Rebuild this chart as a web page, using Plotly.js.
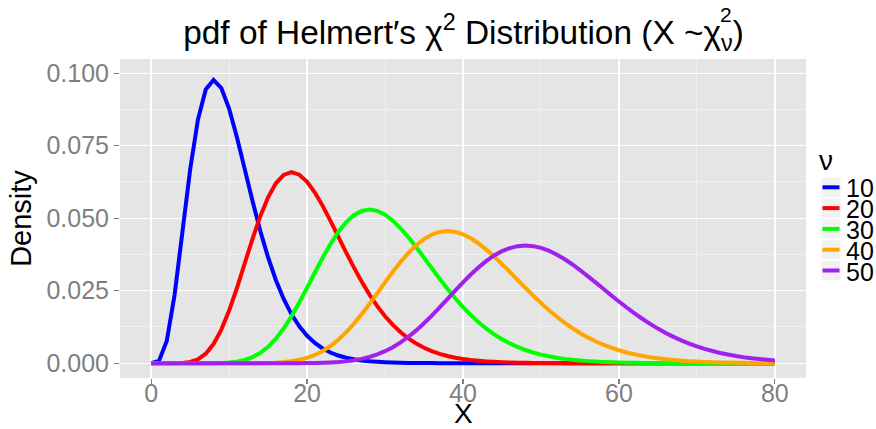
<!DOCTYPE html>
<html>
<head>
<meta charset="utf-8">
<script src="https://cdn.plot.ly/plotly-3.0.1.min.js"></script>
<style>html,body{margin:0;padding:0;background:#fff;}#chart{width:876px;height:429px;}</style>
</head>
<body>
<div id="chart"></div>
<script>
// ---- data ----
var xValues = [0,1,2,3,4,5,6,7,8,9,10,11,12,13,14,15,16,17,18,19,20,21,22,23,24,25,26,27,28,29,30,31,32,33,34,35,36,37,38,39,40,41,42,43,44,45,46,47,48,49,50,51,52,53,54,55,56,57,58,59,60,61,62,63,64,65,66,67,68,69,70,71,72,73,74,75,76,77,78,79,80];
var nuLabels = ['10','20','30','40','50'];
var seriesColors = ['#0000FF','#FF0000','#00FF00','#FFA500','#A020F0'];
var dens10 = [0,0.00079,0.00766,0.02353,0.04511,0.0668,0.08402,0.09441,0.09768,0.0949,0.08773,0.07791,0.06693,0.05591,0.04561,0.03646,0.02863,0.02213,0.01687,0.0127,0.009458,0.006973,0.005094,0.003691,0.002654,0.001896,0.001345,0.000949,0.000666,0.000465,0.000323,0.000223,0.000154,0.000105,0.000072,0.000049,0.000033,0.0000225,0.0000152,0.0000102,0.0000069,0.0000046,0.0000031,0.0000021,0.0000014,0.0000009,0.0000006,0,0,0,0,0,0,0,0,0,0,0,0,0,0,0,0,0,0,0,0,0,0,0,0,0,0,0,0,0,0,0,0,0,0];
var dens20 = [0,0,0.0000005,0.0000118,0.0000955,0.000431,0.00135,0.003279,0.006615,0.011582,0.018133,0.025933,0.034418,0.042904,0.050701,0.057219,0.062039,0.064933,0.065875,0.065,0.062554,0.058858,0.054262,0.049101,0.043681,0.038256,0.033026,0.028134,0.023672,0.01969,0.016203,0.013201,0.010655,0.008525,0.006764,0.005326,0.004163,0.003231,0.002491,0.001909,0.001454,0.001101,0.00083,0.000622,0.000464,0.000345,0.000255,0.000187,0.000137,0.0001,0.000073,0.000053,0.000038,0.0000275,0.00002,0.0000141,0.00001,0.0000072,0.000005,0.0000036,0.0000025,0.0000018,0.0000012,0.0000009,0.0000006,0.0000004,0,0,0,0,0,0,0,0,0,0,0,0,0,0,0];
var dens30 = [0,0,0,0,0,0.0000002,0.0000014,0.0000072,0.0000282,0.000089,0.000236,0.000543,0.001114,0.002072,0.003547,0.005652,0.008462,0.011993,0.016192,0.020936,0.026038,0.031269,0.036376,0.04111,0.045245,0.048598,0.051044,0.052512,0.052995,0.052534,0.051218,0.049163,0.046508,0.043399,0.03998,0.036386,0.03274,0.029142,0.025676,0.022403,0.019369,0.016599,0.014107,0.011895,0.009954,0.00827,0.006823,0.005592,0.004555,0.003687,0.002967,0.002375,0.00189,0.001497,0.00118,0.000925,0.000722,0.000561,0.000434,0.000335,0.000257,0.000196,0.000149,0.000113,0.0000858,0.0000646,0.0000485,0.0000363,0.0000271,0.0000202,0.000015,0.0000111,0.0000082,0.000006,0.0000044,0.0000032,0.0000024,0.0000017,0.0000013,0.0000009,0.0000007];
var dens40 = [0,0,0,0,0,0,0,0,0,0.0000001,0.0000005,0.000002,0.0000062,0.0000172,0.0000427,0.0000961,0.000199,0.000381,0.000685,0.001161,0.001866,0.00286,0.004199,0.005926,0.008068,0.010629,0.013582,0.016875,0.020427,0.024133,0.027873,0.031521,0.034949,0.038037,0.040682,0.0428,0.044335,0.045258,0.045561,0.045269,0.044417,0.043069,0.041291,0.039163,0.036764,0.034175,0.031472,0.028724,0.025991,0.023325,0.020767,0.01835,0.016096,0.01402,0.012129,0.010426,0.008905,0.00756,0.006381,0.005356,0.00447,0.003712,0.003066,0.002521,0.002062,0.001679,0.001361,0.001099,0.000883,0.000707,0.000564,0.000448,0.000354,0.000279,0.000219,0.000172,0.000134,0.000104,0.0000807,0.0000623,0.000048];
var dens50 = [0,0,0,0,0,0,0,0,0,0,0,0,0,0,0,0.0000005,0.0000013,0.0000033,0.0000079,0.0000176,0.0000366,0.0000716,0.000133,0.000234,0.000394,0.000636,0.000989,0.001484,0.002154,0.003033,0.00415,0.005529,0.007185,0.009121,0.011325,0.013773,0.016425,0.019229,0.022118,0.025024,0.027867,0.030571,0.033063,0.035274,0.037148,0.038638,0.039715,0.040362,0.040575,0.040367,0.039761,0.03879,0.037495,0.035922,0.034123,0.032147,0.030048,0.027871,0.025661,0.023459,0.021299,0.019208,0.017212,0.015326,0.013565,0.011937,0.010445,0.009088,0.007866,0.006773,0.005802,0.004946,0.004197,0.003544,0.00298,0.002494,0.002079,0.001726,0.001427,0.001175,0.000964];
var xTickVals = [0,20,40,60,80];
var yTickVals = [0,0.025,0.05,0.075,0.1];
var yTickText = ['0.000','0.025','0.050','0.075','0.100'];

var densities = [dens10, dens20, dens30, dens40, dens50];

// ---- layout geometry (pixels) ----
var W = 876, H = 429;
var M = {l:120, r:70, t:59, b:51};
var PW = W - M.l - M.r, PH = H - M.t - M.b;
function px2x(px){ return (px - M.l) / PW; }
function py2y(py){ return (H - M.b - py) / PH; }

var FONT = 'Liberation Sans, Arial, Helvetica, sans-serif';

var traces = densities.map(function(d, i){
  return {
    x: xValues, y: d, type: 'scatter', mode: 'lines',
    name: nuLabels[i],
    line: {color: seriesColors[i], width: 4, simplify: false},
    showlegend: false, hoverinfo: 'skip'
  };
});

var shapes = [], annotations = [];
// x-axis title (placed as annotation for exact position)
annotations.push({
  xref:'paper', yref:'paper', x: px2x(463), y: py2y(413.5),
  xanchor:'center', yanchor:'middle', showarrow:false,
  text:'X', font:{family:FONT, size:28, color:'#000'}
});
// manual legend (ggplot style)
var rowY0 = 187.3, rowStep = 20.8;
annotations.push({
  xref:'paper', yref:'paper', x: px2x(817), y: py2y(160),
  xanchor:'left', yanchor:'middle', showarrow:false,
  text:'ν', font:{family:FONT, size:28, color:'#000'}
});
nuLabels.forEach(function(lab, i){
  var cy = rowY0 + i*rowStep;
  shapes.push({type:'rect', xref:'paper', yref:'paper',
    x0: px2x(821), x1: px2x(841), y0: py2y(cy+10), y1: py2y(cy-10),
    fillcolor:'#F2F2F2', line:{color:'#FFFFFF', width:1}, layer:'above'});
  shapes.push({type:'line', xref:'paper', yref:'paper',
    x0: px2x(822.5), x1: px2x(839.5), y0: py2y(cy), y1: py2y(cy),
    line:{color: seriesColors[i], width: 4}, layer:'above'});
  annotations.push({
    xref:'paper', yref:'paper', x: px2x(844), y: py2y(cy+1),
    xanchor:'left', yanchor:'middle', showarrow:false,
    text: lab, font:{family:FONT, size:25, color:'#000'}
  });
});
// stacked superscript over the subscript nu in the title
annotations.push({
  xref:'paper', yref:'paper', x: px2x(726), y: py2y(14),
  xanchor:'center', yanchor:'middle', showarrow:false,
  text:'2', font:{family:FONT, size:21, color:'#000'}
});

var layout = {
  width: W, height: H,
  margin: M,
  paper_bgcolor:'#FFFFFF', plot_bgcolor:'#E5E5E5',
  font:{family:FONT, color:'#000'},
  title:{
    text:'pdf of Helmert′s χ<sup>2</sup> Distribution (X ~χ<sub>ν</sub>)',
    font:{family:FONT, size:33.4, color:'#000'},
    xref:'paper', x: px2x(463.5), xanchor:'center',
    yref:'container', y: 1 - 32/H, yanchor:'middle'
  },
  xaxis:{
    range:[-4, 84], tickmode:'array', tickvals:xTickVals,
    ticks:'outside', ticklen:5, tickwidth:1.2, tickcolor:'#7F7F7F',
    ticklabelstandoff:-12,
    tickfont:{family:FONT, size:25, color:'#7F7F7F'},
    showgrid:true, gridcolor:'#FFFFFF', gridwidth:1.4,
    minor:{tickmode:'linear', tick0:0, dtick:10, showgrid:true, gridcolor:'#F2F2F2', gridwidth:0.8, ticks:''},
    zeroline:false, showline:false, fixedrange:true
  },
  yaxis:{
    range:[-0.0051, 0.1049], tickmode:'array', tickvals:yTickVals, ticktext:yTickText,
    ticks:'outside', ticklen:5, tickwidth:1.2, tickcolor:'#7F7F7F',
    tickfont:{family:FONT, size:25, color:'#7F7F7F'},
    showgrid:true, gridcolor:'#FFFFFF', gridwidth:1.4,
    minor:{tickmode:'linear', tick0:0, dtick:0.0125, showgrid:true, gridcolor:'#F2F2F2', gridwidth:0.8, ticks:''},
    zeroline:false, showline:false, fixedrange:true,
    title:{text:'Density', font:{family:FONT, size:29, color:'#000'}, standoff:6}
  },
  shapes: shapes,
  annotations: annotations,
  showlegend:false
};

Plotly.newPlot('chart', traces, layout, {staticPlot:true, displayModeBar:false});
</script>
</body>
</html>
